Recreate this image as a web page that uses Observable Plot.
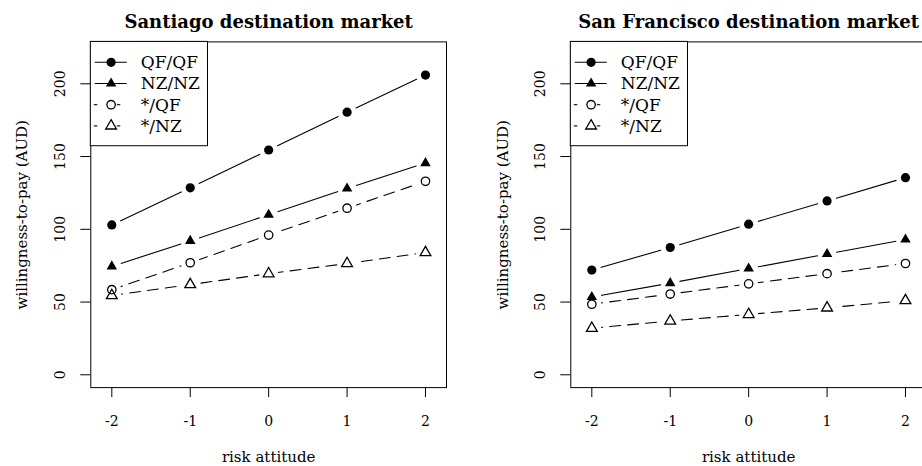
<!DOCTYPE html>
<html>
<head>
<meta charset="utf-8">
<script src="https://cdn.jsdelivr.net/npm/d3@7"></script>
<script src="https://cdn.jsdelivr.net/npm/@observablehq/plot@0.6"></script>
<style>
html, body { margin: 0; padding: 0; background: #fff; }
#wrap { position: relative; width: 922px; height: 466px; overflow: hidden; background: #fff; }
.panel { position: absolute; top: 0; }
.panel svg { display: block; overflow: visible; max-width: none !important; }
</style>
</head>
<body>
<div id="wrap"></div>
<script>
// ---- data ----
const riskAttitude = [-2, -1, 0, 1, 2];
const seriesLabels = ["QF/QF", "NZ/NZ", "*/QF", "*/NZ"];
const santiagoQFQF   = [103, 128.5, 154.5, 180.5, 206];
const santiagoNZNZ   = [74.5, 92, 110, 128, 145.5];
const santiagoStarQF = [58.5, 77, 96, 114.5, 133];
const santiagoStarNZ = [54.5, 62, 69.5, 76.5, 84];
const sfQFQF   = [72, 87.5, 103.5, 119.5, 135.5];
const sfNZNZ   = [53.5, 63, 73, 83, 93];
const sfStarQF = [48.5, 55.5, 62.5, 69.5, 76.5];
const sfStarNZ = [32, 37, 41.5, 46, 51];
const yTicks = [0, 50, 100, 150, 200];
const xTicks = [-2, -1, 0, 1, 2];
const panelTitles = ["Santiago destination market", "San Francisco destination market"];
const xLabel = "risk attitude";
const yLabel = "willingness-to-pay (AUD)";

const FONT = "DejaVu Serif";

function panel(title, values, opt) {
  const rows = seriesLabels.flatMap((s, i) =>
    riskAttitude.map((x, j) => ({series: s, x, y: values[i][j]})));
  const of = s => rows.filter(d => d.series === s);
  const solid = rows.filter(d => d.series === "QF/QF" || d.series === "NZ/NZ");
  const dashed = rows.filter(d => d.series === "*/QF" || d.series === "*/NZ");
  const mt = 41.4, mb = 78.9;
  const chart = Plot.plot({
    width: opt.width,
    height: 466,
    marginLeft: opt.marginLeft,
    marginRight: opt.marginRight,
    marginTop: mt,
    marginBottom: mb,
    x: {domain: [-2.268, 2.268]},
    y: {domain: [-8.8, 228.8]},
    style: {fontFamily: FONT, fontSize: "15px", color: "black", background: "white", overflow: "visible", maxWidth: "none"},
    marks: [
      Plot.line(solid, {x: "x", y: "y", z: "series", stroke: "black", strokeWidth: 1.1}),
      Plot.line(dashed, {x: "x", y: "y", z: "series", stroke: "black", strokeWidth: 1.1, strokeDasharray: "11,7"}),
      Plot.dot(rows, {x: "x", y: "y", r: 9.5, fill: "white", fillOpacity: 1}),
      Plot.dot(of("QF/QF"), {x: "x", y: "y", r: 4.6, fill: "black"}),
      Plot.dot(of("NZ/NZ"), {x: "x", y: "y", symbol: "triangle", r: 3.9, fill: "black"}),
      Plot.dot(of("*/QF"), {x: "x", y: "y", r: 4.2, fill: "white", stroke: "black", strokeWidth: 1.3}),
      Plot.dot(of("*/NZ"), {x: "x", y: "y", symbol: "triangle", r: 4, fill: "none", stroke: "black", strokeWidth: 1.3}),
      Plot.frame({stroke: "black", strokeWidth: 1}),
      Plot.axisX({ticks: xTicks, tickSize: 10, tickFormat: () => "", label: null, stroke: "black"}),
      Plot.axisY({ticks: yTicks, tickSize: 10, tickFormat: () => "", label: null, stroke: "black"}),
      Plot.text(xTicks, {x: d => d, text: d => String(d), frameAnchor: "bottom", dy: 34, lineAnchor: "middle", fontSize: 14}),
      Plot.text(yTicks, {y: d => d, text: d => String(d), frameAnchor: "left", dx: -30, rotate: -90, textAnchor: "middle", lineAnchor: "middle", fontSize: 14}),
      Plot.text([xLabel], {frameAnchor: "bottom", dy: 70, lineAnchor: "middle", fontSize: 15}),
      Plot.text([yLabel], {frameAnchor: "left", dx: opt.yLabelDx, rotate: -90, textAnchor: "middle", lineAnchor: "middle", fontSize: 15}),
      Plot.text([title], {frameAnchor: "top", dy: -20, lineAnchor: "middle", fontSize: 18, fontWeight: "bold"})
    ]
  });

  // legend (top-left of plot region)
  const svg = d3.select(chart);
  const fx = opt.marginLeft, fy = mt;
  const g = svg.append("g").attr("font-family", FONT).attr("font-size", 17).attr("text-anchor", "start");
  g.append("rect").attr("x", fx).attr("y", fy).attr("width", 117.2).attr("height", 104.3)
    .attr("fill", "white").attr("stroke", "black").attr("stroke-width", 1);
  seriesLabels.forEach((s, i) => {
    const yy = fy + 20.9 + i * 21.2;
    const mx = fx + 20.8;
    if (i < 2) {
      g.append("line").attr("x1", fx + 4.5).attr("x2", fx + 36.5).attr("y1", yy).attr("y2", yy)
        .attr("stroke", "black").attr("stroke-width", 1.1);
    } else {
      g.append("line").attr("x1", fx + 3.5).attr("x2", fx + 7).attr("y1", yy).attr("y2", yy)
        .attr("stroke", "black").attr("stroke-width", 1.1);
      g.append("line").attr("x1", fx + 26.5).attr("x2", fx + 30).attr("y1", yy).attr("y2", yy)
        .attr("stroke", "black").attr("stroke-width", 1.1);
    }
    const sym = (i === 1 || i === 3) ? d3.symbolTriangle : d3.symbolCircle;
    const r = i === 0 ? 4.6 : (i === 2 ? 4.2 : (i === 1 ? 3.9 : 4));
    const path = d3.symbol(sym, r * r * Math.PI)();
    const p = g.append("path").attr("d", path).attr("transform", `translate(${mx},${yy})`);
    if (i < 2) p.attr("fill", "black");
    else p.attr("fill", "white").attr("stroke", "black").attr("stroke-width", 1.3);
    g.append("text").attr("x", fx + 50.5).attr("y", yy).attr("dy", "0.35em")
      .attr("text-anchor", "start").attr("fill", "black").text(s);
  });

  const div = document.createElement("div");
  div.className = "panel";
  div.style.left = opt.left + "px";
  div.style.width = opt.width + "px";
  div.appendChild(chart);
  document.getElementById("wrap").appendChild(div);
}

panel(panelTitles[0], [santiagoQFQF, santiagoNZNZ, santiagoStarQF, santiagoStarNZ],
  {left: 0, width: 461, marginLeft: 90.3, marginRight: 15, yLabelDx: -69});
panel(panelTitles[1], [sfQFQF, sfNZNZ, sfStarQF, sfStarNZ],
  {left: 461, width: 470, marginLeft: 109.3, marginRight: 5, yLabelDx: -68});
</script>
</body>
</html>
